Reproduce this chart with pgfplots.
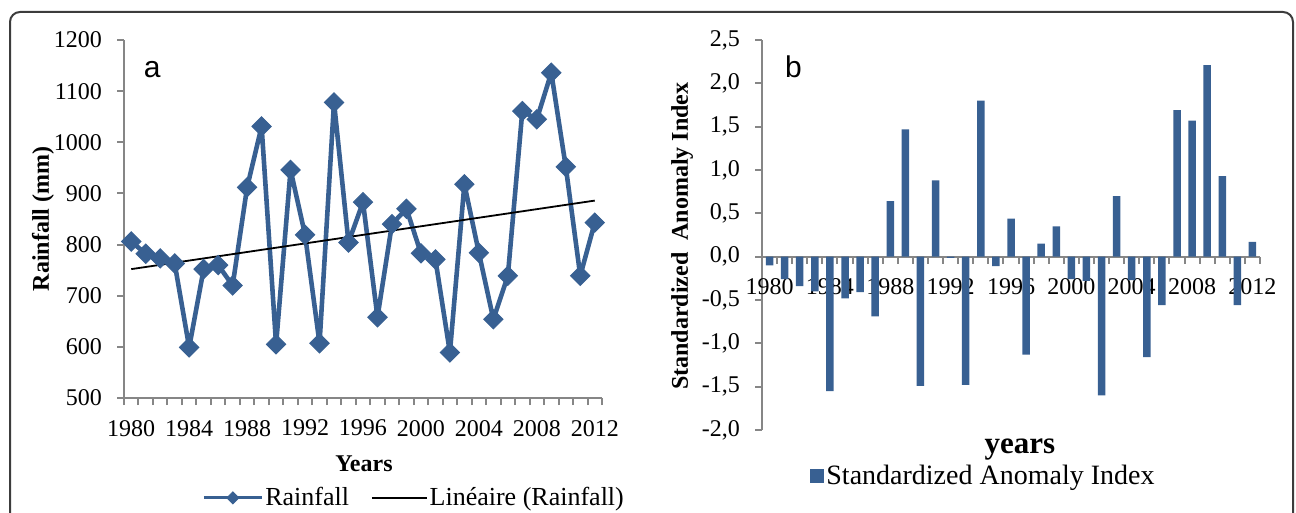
\documentclass[border=0pt]{standalone}
\usepackage{fontspec}
\setmainfont{Liberation Serif}
\newfontfamily\arialfont{Liberation Sans}
\usepackage{pgfplots}
\usepackage{pgfplotstable}
\pgfplotsset{compat=1.18}

\definecolor{xlblue}{RGB}{56,96,146}
\definecolor{axgray}{RGB}{134,134,134}
\definecolor{framegray}{RGB}{60,60,60}

% annual rainfall (mm)
\pgfplotstableread{
year rain
1980 806
1981 782
1982 773
1983 763
1984 599
1985 752
1986 760
1987 720
1988 912
1989 1031
1990 605
1991 946
1992 819
1993 607
1994 1078
1995 804
1996 883
1997 658
1998 840
1999 870
2000 783
2001 771
2002 589
2003 918
2004 784
2005 654
2006 739
2007 1061
2008 1045
2009 1136
2010 952
2011 739
2012 843
}\raindata

% trend line end points
\pgfplotstableread{
year rain
1980 752
2012 886
}\trenddata

% standardized anomaly index
\pgfplotstableread{
year sai
1980 -0.10
1981 -0.26
1982 -0.34
1983 -0.40
1984 -1.55
1985 -0.48
1986 -0.41
1987 -0.69
1988 0.64
1989 1.47
1990 -1.49
1991 0.88
1992 -0.015
1993 -1.48
1994 1.80
1995 -0.11
1996 0.44
1997 -1.13
1998 0.15
1999 0.35
2000 -0.26
2001 -0.28
2002 -1.60
2003 0.70
2004 -0.27
2005 -1.16
2006 -0.56
2007 1.69
2008 1.57
2009 2.21
2010 0.93
2011 -0.56
2012 0.17
}\saidata

\pgfplotsset{
  xlstyle/.style={
    scale only axis,
    axis line style={axgray, line width=1pt},
    tick style={axgray, line width=1pt},
    tick align=outside,
    major tick length=3.5pt,
    minor tick length=3.5pt,
    xmin=1979.5, xmax=2012.5,
    xtick={1980,1984,...,2012},
    minor xtick={1979.5,1980.5,...,2012.5},
    major x tick style={draw=none},
    tick label style={font=\fontsize{12}{14}\selectfont, black},
    xticklabel style={yshift=-4pt},
    yticklabel style={xshift=-4pt},
    /pgf/number format/assume math mode=true,
    /pgf/number format/1000 sep={},
    scaled ticks=false,
    legend style={draw=none, fill=none, inner sep=0pt, legend columns=-1,
      nodes={inner sep=1pt}},
  },
  rainleg/.style={legend image code/.code={%
    \draw[mark repeat=2, mark phase=2, ##1, line width=1.5pt, mark size=2.1pt]
      plot coordinates {(0pt,0pt) (14.5pt,0pt) (29pt,0pt)};}},
  trendleg/.style={legend image code/.code={%
    \draw[black, line width=0.8pt] (0pt,0pt) -- (27.5pt,0pt);}},
  barleg/.style={legend image code/.code={%
    \fill[xlblue] (0pt,-3.7pt) rectangle (7pt,3.7pt);}},
}

\begin{document}
\begin{tikzpicture}
\useasboundingbox (0pt,0pt) rectangle (648pt,-256.5pt);
\draw[framegray, line width=1pt, rounded corners=5pt]
  (5pt,-256.5pt) -- (5pt,-6pt) -- (646.5pt,-6pt) -- (646.5pt,-256.5pt);

% panel a
\begin{axis}[xlstyle,
  at={(62pt,-199pt)}, anchor=south west,
  width=239pt, height=179pt,
  axis x line*=bottom, axis y line*=left,
  ymin=500, ymax=1200, ytick={500,600,...,1200},
  xlabel={Years},
  every axis x label/.style={at={(axis description cs:0.502,-0.2067)}, anchor=base,
    font=\fontsize{12}{14}\selectfont\bfseries},
  ylabel={Rainfall (mm)},
  every axis y label/.style={at={(axis description cs:-0.1695,0.5)}, rotate=90, anchor=center,
    font=\fontsize{12}{14}\selectfont\bfseries},
  legend style={at={(axis description cs:0.163,-0.279)}, anchor=west,
    font=\fontsize{13}{15}\selectfont},
]
\addplot[xlblue, line width=2.3pt, line join=round, mark=square*, mark size=3.4pt,
  mark options={rotate=45, solid, line width=0.5pt, line join=miter}, rainleg]
  table[x=year, y=rain] {\raindata};
\addlegendentry{Rainfall\kern10pt}
\addplot[black, line width=0.9pt, trendleg]
  table[x=year, y=rain] {\trenddata};
\addlegendentry{Linéaire (Rainfall)}
\node[anchor=base west, font=\arialfont\fontsize{15}{18}\selectfont]
  at (axis description cs:0.027,0.8966) {a};
\end{axis}

% panel b
\begin{axis}[xlstyle,
  at={(381pt,-215pt)}, anchor=south west,
  width=249pt, height=195pt,
  axis x line*=middle, axis y line*=left,
  ymin=-2, ymax=2.5, ytick={-2,-1.5,...,2.5},
  yticklabel style={/pgf/number format/.cd, fixed, fixed zerofill, precision=1, use comma},
  xlabel={years},
  every axis x label/.style={at={(axis description cs:0.518,-0.059)}, anchor=base,
    font=\fontsize{15.5}{18}\selectfont\bfseries},
  ylabel={Standardized\ \ Anomaly Index},
  every axis y label/.style={at={(axis description cs:-0.1606,0.497)}, rotate=90, anchor=center,
    font=\fontsize{12}{14}\selectfont\bfseries},
  legend style={at={(axis description cs:0.0964,-0.118)}, anchor=west,
    font=\fontsize{14}{16}\selectfont},
]
\addplot[ybar, bar width=3.75pt, fill=xlblue, draw=none, barleg]
  table[x=year, y=sai] {\saidata};
\addlegendentry{Standardized Anomaly Index}
\node[anchor=base west, font=\arialfont\fontsize{15}{18}\selectfont]
  at (axis description cs:0.032,0.903) {b};
\end{axis}
\end{tikzpicture}
\end{document}
